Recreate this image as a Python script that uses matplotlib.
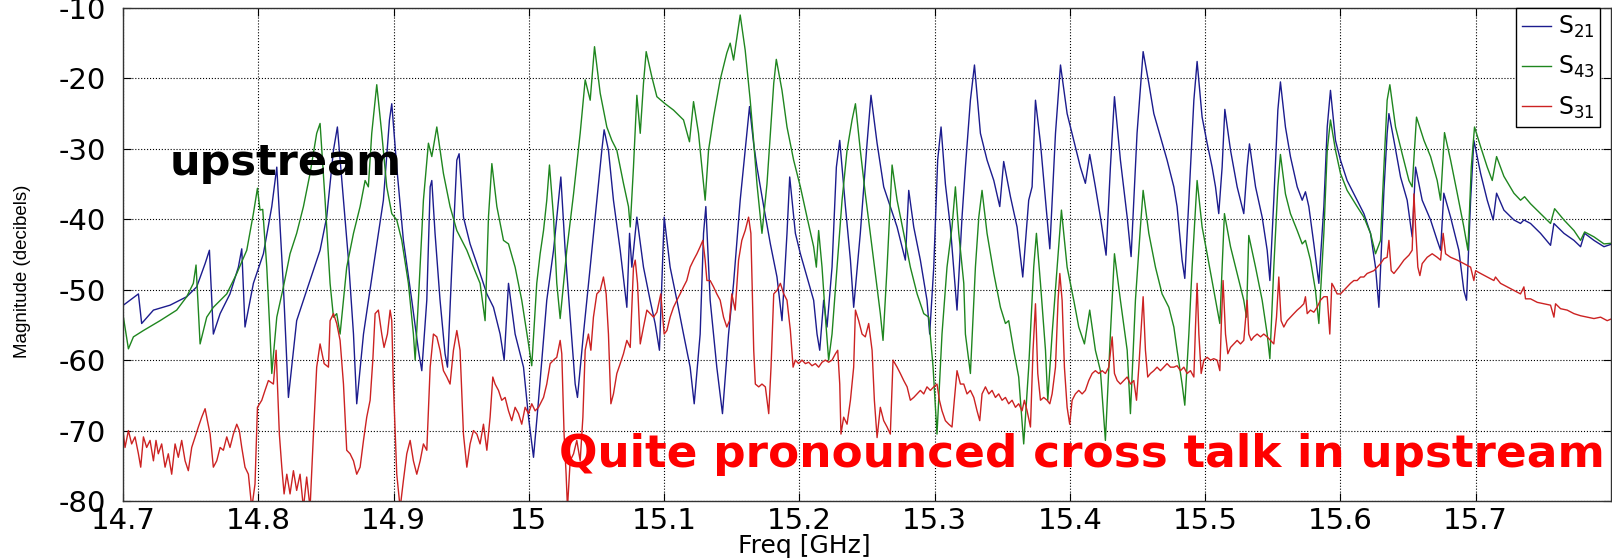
import matplotlib
matplotlib.use('Agg')
import matplotlib.pyplot as plt

plt.rcParams['axes.unicode_minus'] = False

# S21 (blue)
s21_freq = [14.7003, 14.7114, 14.7138, 14.7225, 14.7348, 14.7471, 14.7545, 14.7607, 14.7639, 14.7668,
            14.7718, 14.7791, 14.7853, 14.7878, 14.7902, 14.7964, 14.8038, 14.8100, 14.8137, 14.8186,
            14.8223, 14.8284, 14.8358, 14.8457, 14.8506, 14.8556, 14.8585, 14.8630, 14.8667, 14.8704,
            14.8728, 14.8778, 14.8851, 14.8925, 14.8970, 14.8987, 14.9024, 14.9073, 14.9135, 14.9184,
            14.9209, 14.9246, 14.9271, 14.9283, 14.9307, 14.9344, 14.9381, 14.9399, 14.9431, 14.9468,
            14.9485, 14.9517, 14.9566, 14.9616, 14.9690, 14.9739, 14.9788, 14.9818, 14.9850, 14.9899,
            14.9961, 14.9998, 15.0035, 15.0072, 15.0109, 15.0133, 15.0183, 15.0220, 15.0237, 15.0269,
            15.0306, 15.0343, 15.0360, 15.0404, 15.0454, 15.0503, 15.0540, 15.0557, 15.0589, 15.0626,
            15.0676, 15.0725, 15.0745, 15.0762, 15.0799, 15.0848, 15.0897, 15.0934, 15.0966, 15.1001,
            15.1045, 15.1095, 15.1144, 15.1193, 15.1223, 15.1267, 15.1292, 15.1309, 15.1341, 15.1390,
            15.1432, 15.1477, 15.1514, 15.1563, 15.1612, 15.1632, 15.1662, 15.1687, 15.1737, 15.1786,
            15.1835, 15.1872, 15.1909, 15.1929, 15.1971, 15.2008, 15.2057, 15.2106, 15.2131, 15.2151,
            15.2180, 15.2205, 15.2242, 15.2274, 15.2299, 15.2341, 15.2378, 15.2402, 15.2451, 15.2501,
            15.2530, 15.2575, 15.2624, 15.2673, 15.2723, 15.2772, 15.2784, 15.2809, 15.2846, 15.2895,
            15.2944, 15.2964, 15.2994, 15.3023, 15.3048, 15.3080, 15.3117, 15.3166, 15.3203, 15.3228,
            15.3265, 15.3295, 15.3339, 15.3388, 15.3438, 15.3482, 15.3511, 15.3561, 15.3610, 15.3652,
            15.3696, 15.3721, 15.3746, 15.3783, 15.3820, 15.3852, 15.3894, 15.3931, 15.3980, 15.4029,
            15.4078, 15.4115, 15.4147, 15.4189, 15.4226, 15.4268, 15.4300, 15.4330, 15.4374, 15.4424,
            15.4453, 15.4497, 15.4542, 15.4584, 15.4621, 15.4670, 15.4719, 15.4769, 15.4793, 15.4830,
            15.4850, 15.4880, 15.4917, 15.4941, 15.4978, 15.5015, 15.5052, 15.5077, 15.5101, 15.5126,
            15.5146, 15.5188, 15.5237, 15.5286, 15.5311, 15.5328, 15.5373, 15.5422, 15.5459, 15.5479,
            15.5508, 15.5538, 15.5557, 15.5594, 15.5631, 15.5681, 15.5718, 15.5742, 15.5767, 15.5804,
            15.5841, 15.5878, 15.5903, 15.5927, 15.5964, 15.6001, 15.6050, 15.6124, 15.6174, 15.6223,
            15.6260, 15.6285, 15.6322, 15.6346, 15.6359, 15.6396, 15.6445, 15.6494, 15.6531, 15.6556,
            15.6605, 15.6667, 15.6716, 15.6741, 15.6765, 15.6815, 15.6876, 15.6913, 15.6933, 15.6963,
            15.6987, 15.7037, 15.7086, 15.7130, 15.7155, 15.7209, 15.7283, 15.7332, 15.7357, 15.7406,
            15.7480, 15.7554, 15.7579, 15.7653, 15.7727, 15.7776, 15.7806, 15.7875, 15.7949, 15.8010]
s21_db = [-52.2, -50.6, -54.8, -52.9, -52.2, -51.0, -49.6, -46.3, -44.4, -56.3,
          -53.4, -50.6, -46.8, -44.2, -55.3, -49.1, -44.9, -38.2, -32.6, -49.6,
          -65.3, -54.4, -50.1, -44.4, -39.7, -30.2, -26.9, -37.3, -45.8, -56.3,
          -66.2, -56.3, -46.8, -37.3, -25.9, -23.6, -32.6, -43.0, -51.5, -58.6,
          -61.5, -51.5, -35.4, -34.5, -42.0, -51.5, -59.1, -61.0, -46.8, -31.6,
          -30.7, -39.7, -43.5, -46.3, -50.6, -52.5, -56.3, -60.0, -49.1, -56.3,
          -61.0, -68.1, -73.8, -65.7, -57.2, -51.5, -44.4, -37.3, -34.0, -44.4,
          -53.9, -63.4, -65.3, -56.3, -46.8, -37.3, -30.2, -27.3, -30.2, -37.3,
          -44.4, -52.5, -42.0, -46.8, -39.7, -46.8, -51.5, -54.8, -58.6, -39.7,
          -46.8, -51.5, -56.3, -61.0, -66.2, -56.3, -42.0, -38.2, -51.5, -61.0,
          -67.6, -56.3, -49.1, -37.3, -27.8, -24.0, -29.2, -32.6, -38.2, -43.5,
          -48.2, -54.4, -42.0, -34.0, -42.0, -44.9, -48.2, -51.5, -56.3, -58.6,
          -51.5, -55.3, -46.8, -32.6, -28.8, -38.2, -45.8, -52.5, -42.0, -29.2,
          -22.4, -29.2, -35.4, -38.2, -41.1, -44.9, -45.8, -35.9, -41.1, -45.8,
          -51.5, -56.3, -46.8, -31.6, -26.9, -35.0, -41.1, -52.9, -39.7, -32.6,
          -23.1, -18.1, -27.8, -31.6, -34.5, -38.2, -31.8, -36.8, -41.1, -48.2,
          -37.3, -35.4, -23.1, -29.2, -37.3, -44.2, -27.8, -18.1, -25.0, -28.8,
          -32.6, -34.9, -30.8, -35.4, -39.7, -45.1, -32.6, -22.6, -31.6, -39.7,
          -45.3, -27.8, -16.2, -20.7, -25.0, -28.3, -31.6, -35.4, -38.2, -45.8,
          -48.4, -37.3, -23.1, -17.6, -25.5, -29.2, -32.6, -35.4, -39.2, -32.6,
          -24.4, -30.2, -35.4, -39.2, -32.6, -29.3, -35.4, -39.7, -44.4, -48.7,
          -37.3, -24.5, -20.5, -26.9, -31.1, -35.4, -37.3, -36.1, -38.2, -43.5,
          -49.1, -38.2, -26.9, -21.7, -28.8, -31.6, -34.5, -37.3, -39.2, -42.0,
          -46.8, -52.5, -36.0, -27.8, -25.0, -28.8, -34.0, -37.3, -42.5, -32.6,
          -37.3, -40.1, -43.0, -44.4, -36.3, -39.7, -44.4, -50.1, -51.5, -37.3,
          -28.8, -33.5, -37.3, -40.1, -36.3, -38.7, -40.1, -40.6, -40.1, -40.6,
          -42.0, -43.7, -40.6, -42.0, -43.0, -43.9, -42.0, -43.0, -43.9, -43.5]

# S43 (green)
s43_freq = [14.7003, 14.7040, 14.7077, 14.7151, 14.7274, 14.7397, 14.7471, 14.7520, 14.7540, 14.7570,
            14.7619, 14.7668, 14.7767, 14.7841, 14.7915, 14.7964, 14.7994, 14.8013, 14.8033, 14.8063,
            14.8087, 14.8100, 14.8137, 14.8186, 14.8235, 14.8284, 14.8334, 14.8383, 14.8432, 14.8457,
            14.8494, 14.8531, 14.8556, 14.8580, 14.8605, 14.8654, 14.8704, 14.8753, 14.8790, 14.8814,
            14.8839, 14.8876, 14.8913, 14.8950, 14.8987, 14.9024, 14.9061, 14.9110, 14.9147, 14.9160,
            14.9184, 14.9221, 14.9258, 14.9283, 14.9320, 14.9369, 14.9418, 14.9468, 14.9542, 14.9591,
            14.9640, 14.9677, 14.9702, 14.9727, 14.9764, 14.9813, 14.9850, 14.9899, 14.9948, 14.9998,
            15.0022, 15.0059, 15.0084, 15.0109, 15.0133, 15.0153, 15.0183, 15.0207, 15.0232, 15.0281,
            15.0331, 15.0380, 15.0417, 15.0454, 15.0486, 15.0528, 15.0577, 15.0614, 15.0651, 15.0700,
            15.0737, 15.0750, 15.0774, 15.0799, 15.0824, 15.0848, 15.0868, 15.0910, 15.0947, 15.1008,
            15.1070, 15.1144, 15.1188, 15.1218, 15.1255, 15.1280, 15.1304, 15.1329, 15.1366, 15.1415,
            15.1464, 15.1489, 15.1514, 15.1563, 15.1600, 15.1637, 15.1662, 15.1687, 15.1724, 15.1761,
            15.1786, 15.1811, 15.1830, 15.1872, 15.1909, 15.1958, 15.2008, 15.2057, 15.2106, 15.2126,
            15.2143, 15.2168, 15.2193, 15.2217, 15.2242, 15.2279, 15.2316, 15.2353, 15.2390, 15.2415,
            15.2451, 15.2488, 15.2525, 15.2562, 15.2599, 15.2619, 15.2649, 15.2673, 15.2686, 15.2723,
            15.2772, 15.2821, 15.2871, 15.2920, 15.2957, 15.2989, 15.3018, 15.3055, 15.3092, 15.3129,
            15.3154, 15.3179, 15.3216, 15.3228, 15.3265, 15.3302, 15.3327, 15.3351, 15.3388, 15.3438,
            15.3487, 15.3524, 15.3548, 15.3585, 15.3622, 15.3659, 15.3696, 15.3733, 15.3753, 15.3783,
            15.3820, 15.3837, 15.3869, 15.3906, 15.3938, 15.3980, 15.4029, 15.4066, 15.4108, 15.4147,
            15.4189, 15.4226, 15.4263, 15.4300, 15.4330, 15.4374, 15.4424, 15.4448, 15.4485, 15.4522,
            15.4542, 15.4584, 15.4633, 15.4682, 15.4732, 15.4769, 15.4793, 15.4830, 15.4850, 15.4880,
            15.4904, 15.4941, 15.4978, 15.5015, 15.5064, 15.5109, 15.5126, 15.5143, 15.5188, 15.5237,
            15.5286, 15.5306, 15.5323, 15.5373, 15.5422, 15.5459, 15.5479, 15.5508, 15.5538, 15.5557,
            15.5594, 15.5631, 15.5681, 15.5718, 15.5742, 15.5779, 15.5816, 15.5841, 15.5878, 15.5903,
            15.5927, 15.5964, 15.6001, 15.6050, 15.6124, 15.6174, 15.6223, 15.6260, 15.6297, 15.6322,
            15.6346, 15.6366, 15.6408, 15.6457, 15.6507, 15.6531, 15.6563, 15.6618, 15.6667, 15.6716,
            15.6741, 15.6770, 15.6815, 15.6864, 15.6913, 15.6943, 15.6968, 15.6992, 15.7037, 15.7086,
            15.7123, 15.7155, 15.7209, 15.7283, 15.7332, 15.7362, 15.7406, 15.7480, 15.7554, 15.7584,
            15.7653, 15.7727, 15.7776, 15.7806, 15.7875, 15.7949, 15.8010]
s43_db = [-53.9, -58.4, -56.7, -55.8, -54.4, -52.9, -51.0, -49.1, -46.5, -57.7,
          -53.9, -52.5, -50.6, -47.7, -44.4, -39.2, -35.6, -38.7, -38.6, -46.8,
          -56.3, -61.9, -53.9, -49.6, -44.9, -42.0, -38.2, -33.5, -27.8, -26.4,
          -37.3, -49.1, -53.9, -53.4, -56.3, -46.8, -42.0, -38.2, -34.5, -35.4,
          -27.8, -20.9, -27.8, -35.4, -39.2, -40.1, -43.0, -49.1, -56.3, -60.0,
          -51.5, -37.3, -29.2, -31.1, -26.9, -33.5, -38.2, -41.6, -44.4, -46.8,
          -49.1, -54.4, -39.7, -32.1, -38.2, -43.0, -43.5, -46.8, -51.5, -57.7,
          -60.8, -49.1, -44.9, -41.6, -37.3, -32.3, -39.7, -49.1, -54.1, -44.4,
          -36.4, -27.8, -20.2, -23.1, -15.5, -22.1, -26.9, -28.8, -30.2, -34.9,
          -38.2, -41.1, -32.6, -22.4, -27.8, -20.7, -16.2, -19.8, -22.6, -23.6,
          -24.5, -25.9, -29.0, -23.3, -27.8, -32.6, -37.3, -30.2, -25.5, -20.2,
          -16.4, -15.0, -17.4, -11.0, -16.0, -23.1, -28.8, -35.0, -42.0, -35.0,
          -27.8, -20.7, -17.3, -21.7, -26.9, -31.6, -35.4, -39.7, -43.9, -46.8,
          -41.6, -46.8, -53.9, -60.0, -56.3, -46.8, -37.3, -30.2, -25.9, -23.6,
          -30.2, -36.4, -42.0, -47.7, -53.4, -57.2, -46.8, -37.3, -32.3, -37.3,
          -42.0, -46.8, -50.6, -53.4, -53.9, -61.0, -70.5, -56.3, -46.8, -41.1,
          -35.4, -42.0, -49.1, -56.3, -61.9, -46.8, -39.7, -35.9, -42.0, -47.7,
          -52.5, -54.8, -54.4, -58.6, -62.4, -71.9, -61.0, -46.8, -42.0, -49.1,
          -58.6, -65.7, -56.3, -46.8, -38.7, -46.8, -51.5, -55.3, -57.7, -52.9,
          -58.6, -61.5, -71.4, -56.3, -44.9, -51.5, -58.6, -67.6, -51.5, -41.1,
          -35.9, -42.0, -46.8, -50.6, -52.5, -55.3, -58.6, -63.4, -66.4, -56.3,
          -46.8, -34.5, -41.1, -44.9, -50.1, -54.8, -46.8, -39.2, -43.9, -47.7,
          -51.5, -53.9, -42.3, -46.8, -51.5, -56.3, -59.8, -46.8, -35.4, -30.8,
          -36.4, -39.2, -41.6, -43.5, -43.0, -45.8, -50.1, -54.8, -42.0, -30.2,
          -25.9, -30.2, -33.5, -35.9, -38.2, -39.7, -42.0, -44.9, -43.0, -32.6,
          -23.1, -20.9, -26.9, -30.7, -34.5, -35.4, -25.5, -28.8, -31.1, -34.5,
          -37.3, -27.7, -31.6, -36.3, -41.1, -44.4, -32.6, -26.9, -29.7, -32.6,
          -34.5, -31.1, -33.9, -36.3, -37.3, -36.8, -37.8, -39.2, -40.6, -38.5,
          -40.1, -41.6, -43.0, -41.8, -42.5, -43.5, -43.4]

# S31 (red)
s31_freq = [14.7003, 14.7015, 14.7040, 14.7064, 14.7089, 14.7114, 14.7131, 14.7151, 14.7175, 14.7200,
            14.7225, 14.7244, 14.7261, 14.7286, 14.7311, 14.7335, 14.7360, 14.7385, 14.7409, 14.7434,
            14.7459, 14.7483, 14.7508, 14.7533, 14.7557, 14.7582, 14.7607, 14.7624, 14.7644, 14.7668,
            14.7693, 14.7718, 14.7742, 14.7767, 14.7791, 14.7816, 14.7841, 14.7860, 14.7878, 14.7902,
            14.7927, 14.7952, 14.7976, 14.7994, 14.8026, 14.8050, 14.8075, 14.8112, 14.8132, 14.8156,
            14.8174, 14.8191, 14.8211, 14.8235, 14.8260, 14.8284, 14.8309, 14.8334, 14.8358, 14.8383,
            14.8408, 14.8432, 14.8457, 14.8487, 14.8519, 14.8531, 14.8556, 14.8580, 14.8605, 14.8630,
            14.8654, 14.8679, 14.8704, 14.8728, 14.8753, 14.8778, 14.8802, 14.8827, 14.8847, 14.8864,
            14.8888, 14.8913, 14.8930, 14.8955, 14.8975, 14.8987, 14.8999, 14.9024, 14.9049, 14.9073,
            14.9098, 14.9123, 14.9147, 14.9172, 14.9197, 14.9221, 14.9246, 14.9271, 14.9295, 14.9320,
            14.9344, 14.9369, 14.9394, 14.9418, 14.9443, 14.9468, 14.9492, 14.9517, 14.9542, 14.9566,
            14.9591, 14.9616, 14.9640, 14.9665, 14.9690, 14.9714, 14.9734, 14.9751, 14.9776, 14.9800,
            14.9825, 14.9850, 14.9874, 14.9899, 14.9924, 14.9948, 14.9973, 14.9998, 15.0022, 15.0047,
            15.0072, 15.0109, 15.0133, 15.0158, 15.0183, 15.0207, 15.0232, 15.0244, 15.0261, 15.0276,
            15.0286, 15.0306, 15.0331, 15.0355, 15.0380, 15.0400, 15.0417, 15.0441, 15.0459, 15.0478,
            15.0503, 15.0528, 15.0552, 15.0572, 15.0589, 15.0607, 15.0626, 15.0651, 15.0676, 15.0700,
            15.0725, 15.0750, 15.0774, 15.0787, 15.0804, 15.0824, 15.0848, 15.0873, 15.0897, 15.0922,
            15.0947, 15.0976, 15.1001, 15.1021, 15.1045, 15.1070, 15.1095, 15.1119, 15.1144, 15.1168,
            15.1193, 15.1218, 15.1243, 15.1267, 15.1287, 15.1304, 15.1317, 15.1341, 15.1366, 15.1390,
            15.1415, 15.1440, 15.1464, 15.1484, 15.1501, 15.1526, 15.1551, 15.1575, 15.1600, 15.1625,
            15.1642, 15.1663, 15.1675, 15.1700, 15.1724, 15.1749, 15.1774, 15.1791, 15.1811, 15.1835,
            15.1860, 15.1885, 15.1909, 15.1934, 15.1954, 15.1971, 15.1995, 15.2020, 15.2045, 15.2069,
            15.2094, 15.2119, 15.2143, 15.2168, 15.2193, 15.2217, 15.2242, 15.2267, 15.2284, 15.2299,
            15.2308, 15.2328, 15.2353, 15.2378, 15.2402, 15.2415, 15.2439, 15.2464, 15.2488, 15.2513,
            15.2538, 15.2555, 15.2575, 15.2599, 15.2624, 15.2649, 15.2673, 15.2693, 15.2723, 15.2747,
            15.2772, 15.2797, 15.2821, 15.2846, 15.2871, 15.2895, 15.2920, 15.2944, 15.2969, 15.2994,
            15.3018, 15.3036, 15.3055, 15.3080, 15.3105, 15.3129, 15.3146, 15.3166, 15.3191, 15.3216,
            15.3240, 15.3265, 15.3290, 15.3314, 15.3334, 15.3351, 15.3376, 15.3401, 15.3425, 15.3450,
            15.3474, 15.3499, 15.3524, 15.3548, 15.3573, 15.3598, 15.3622, 15.3647, 15.3664, 15.3684,
            15.3709, 15.3728, 15.3746, 15.3763, 15.3783, 15.3807, 15.3832, 15.3852, 15.3869, 15.3894,
            15.3913, 15.3926, 15.3943, 15.3960, 15.3980, 15.3999, 15.4017, 15.4041, 15.4066, 15.4091,
            15.4115, 15.4140, 15.4165, 15.4189, 15.4214, 15.4239, 15.4263, 15.4288, 15.4313, 15.4330,
            15.4350, 15.4374, 15.4399, 15.4424, 15.4448, 15.4473, 15.4493, 15.4510, 15.4527, 15.4542,
            15.4559, 15.4576, 15.4596, 15.4621, 15.4645, 15.4670, 15.4695, 15.4719, 15.4744, 15.4769,
            15.4793, 15.4818, 15.4843, 15.4867, 15.4892, 15.4917, 15.4929, 15.4941, 15.4954, 15.4971,
            15.4991, 15.5015, 15.5040, 15.5064, 15.5089, 15.5109, 15.5121, 15.5133, 15.5151, 15.5168,
            15.5188, 15.5212, 15.5237, 15.5262, 15.5286, 15.5311, 15.5323, 15.5341, 15.5360, 15.5385,
            15.5410, 15.5434, 15.5459, 15.5484, 15.5508, 15.5528, 15.5545, 15.5562, 15.5582, 15.5607,
            15.5631, 15.5656, 15.5681, 15.5705, 15.5730, 15.5742, 15.5755, 15.5779, 15.5804, 15.5828,
            15.5853, 15.5878, 15.5903, 15.5922, 15.5937, 15.5952, 15.5976, 15.6001, 15.6026, 15.6050,
            15.6075, 15.6100, 15.6124, 15.6149, 15.6174, 15.6198, 15.6223, 15.6248, 15.6272, 15.6297,
            15.6322, 15.6346, 15.6359, 15.6376, 15.6396, 15.6433, 15.6470, 15.6507, 15.6531, 15.6544,
            15.6556, 15.6573, 15.6588, 15.6605, 15.6642, 15.6679, 15.6716, 15.6741, 15.6760, 15.6778,
            15.6815, 15.6864, 15.6913, 15.6963, 15.6987, 15.7000, 15.7037, 15.7086, 15.7135, 15.7147,
            15.7184, 15.7234, 15.7283, 15.7332, 15.7357, 15.7369, 15.7406, 15.7456, 15.7505, 15.7554,
            15.7579, 15.7591, 15.7628, 15.7677, 15.7727, 15.7776, 15.7825, 15.7875, 15.7924, 15.7973,
            15.8010]
s31_db = [-70.5, -72.4, -70.0, -71.9, -70.9, -73.3, -75.2, -70.9, -72.4, -71.4,
          -74.3, -71.4, -73.3, -71.9, -75.2, -73.3, -76.2, -71.9, -73.8, -71.4,
          -74.3, -75.7, -72.4, -70.9, -69.5, -68.1, -66.9, -68.6, -70.5, -75.2,
          -74.3, -72.4, -72.8, -70.9, -72.4, -70.5, -69.1, -70.0, -72.4, -75.2,
          -76.2, -81.0, -77.6, -66.7, -65.7, -64.3, -62.9, -63.4, -58.6, -70.5,
          -75.2, -79.0, -76.2, -79.0, -75.7, -78.5, -76.2, -81.0, -76.6, -81.0,
          -70.5, -61.0, -57.7, -60.5, -61.0, -54.4, -53.4, -54.8, -57.2, -63.4,
          -72.8, -73.3, -74.3, -76.2, -75.2, -71.4, -68.1, -65.7, -60.0, -53.4,
          -52.9, -56.3, -58.2, -56.3, -52.9, -54.4, -63.4, -76.2, -81.0, -77.1,
          -73.3, -71.4, -74.3, -76.2, -74.3, -71.9, -72.8, -61.0, -56.3, -56.7,
          -58.6, -61.5, -62.4, -63.4, -58.6, -55.8, -58.6, -70.5, -75.2, -71.9,
          -70.0, -70.5, -71.9, -69.1, -72.8, -68.1, -62.4, -63.4, -64.3, -65.7,
          -65.3, -67.2, -68.6, -66.7, -67.6, -69.1, -66.7, -67.6, -66.2, -67.2,
          -66.7, -65.3, -63.4, -60.5, -60.0, -59.6, -57.2, -59.1, -70.5, -76.2,
          -81.0, -74.3, -73.3, -71.4, -74.3, -68.1, -58.6, -56.3, -58.6, -53.9,
          -50.6, -50.1, -48.2, -50.6, -56.3, -66.2, -64.8, -61.9, -60.5, -59.1,
          -57.2, -58.2, -46.8, -45.8, -49.1, -57.7, -55.3, -52.9, -53.4, -53.9,
          -53.2, -50.6, -56.3, -55.8, -53.9, -52.5, -51.5, -50.6, -49.6, -48.7,
          -46.8, -45.8, -44.9, -43.9, -43.0, -45.8, -48.7, -48.7, -49.6, -50.6,
          -51.5, -53.9, -55.3, -54.4, -50.6, -52.9, -45.8, -43.0, -41.6, -39.7,
          -42.0, -58.6, -63.4, -63.8, -63.4, -63.8, -67.6, -61.0, -50.6, -50.1,
          -49.1, -50.6, -51.5, -55.8, -61.0, -60.0, -60.5, -60.0, -60.5, -60.3,
          -60.8, -60.5, -61.0, -60.3, -60.0, -60.3, -60.0, -59.1, -58.6, -63.4,
          -70.5, -68.1, -69.1, -65.7, -61.0, -52.9, -54.4, -56.3, -56.7, -54.8,
          -58.6, -65.7, -71.0, -66.7, -68.6, -69.5, -70.5, -60.0, -61.0, -61.9,
          -62.9, -63.8, -65.7, -65.3, -64.8, -64.3, -64.8, -63.8, -64.3, -63.8,
          -63.4, -65.7, -67.2, -68.6, -69.1, -69.5, -65.7, -61.5, -63.4, -63.4,
          -64.8, -64.3, -65.3, -67.2, -68.6, -64.8, -63.8, -64.8, -64.3, -65.3,
          -64.8, -65.7, -65.3, -66.2, -65.7, -66.7, -66.2, -67.2, -65.7, -67.2,
          -69.5, -58.6, -52.0, -61.9, -65.7, -65.3, -65.7, -66.2, -64.8, -61.0,
          -51.5, -47.7, -51.5, -61.0, -66.7, -69.1, -65.7, -64.8, -64.3, -64.8,
          -64.3, -62.9, -61.9, -61.5, -61.9, -61.5, -61.9, -61.0, -56.7, -61.9,
          -62.9, -63.4, -62.9, -62.4, -63.4, -62.9, -65.7, -61.0, -55.8, -51.0,
          -58.6, -62.4, -61.9, -61.5, -61.0, -61.5, -61.0, -60.5, -61.0, -61.0,
          -60.8, -61.5, -61.0, -61.9, -61.5, -62.4, -55.3, -49.1, -56.3, -61.9,
          -60.0, -59.6, -60.0, -59.8, -60.0, -61.5, -54.4, -48.7, -56.3, -59.1,
          -58.2, -57.7, -57.2, -57.7, -57.2, -51.5, -56.3, -57.2, -56.7, -56.3,
          -56.7, -56.3, -56.7, -57.2, -57.7, -53.9, -48.2, -54.4, -55.3, -54.4,
          -53.9, -53.4, -52.9, -52.5, -52.0, -51.0, -53.4, -52.9, -53.2, -52.5,
          -51.5, -51.0, -51.0, -56.3, -49.1, -49.6, -50.6, -50.6, -50.1, -49.6,
          -49.1, -48.7, -48.7, -48.2, -48.2, -47.7, -47.5, -47.3, -46.8, -46.3,
          -45.6, -45.4, -43.0, -47.3, -47.7, -46.8, -45.8, -45.1, -44.4, -36.4,
          -41.1, -46.8, -48.0, -46.3, -45.4, -44.9, -45.4, -45.8, -42.0, -44.9,
          -45.4, -45.8, -46.3, -46.8, -48.7, -47.3, -47.7, -48.2, -48.7, -48.2,
          -49.1, -49.6, -50.1, -50.6, -49.6, -51.3, -51.3, -51.8, -52.0, -52.2,
          -53.9, -52.0, -52.7, -52.9, -53.4, -53.7, -53.9, -54.1, -53.9, -54.4,
          -54.1]

x_ticks = [14.7, 14.8, 14.9, 15.0, 15.1, 15.2, 15.3, 15.4, 15.5, 15.6, 15.7]
x_labels = ['14.7', '14.8', '14.9', '15', '15.1', '15.2', '15.3', '15.4', '15.5', '15.6', '15.7']
y_ticks = [-80, -70, -60, -50, -40, -30, -20, -10]

fig = plt.figure(figsize=(16.12, 5.6), dpi=100)
ax = fig.add_axes([0.0763, 0.1054, 0.9230, 0.8804])

ax.plot(s21_freq, s21_db, color='#1c1c8e', lw=1.0, label=r'$\mathrm{S}_{21}$')
ax.plot(s43_freq, s43_db, color='#1f861f', lw=1.0, label=r'$\mathrm{S}_{43}$')
ax.plot(s31_freq, s31_db, color='#cc2222', lw=1.0, label=r'$\mathrm{S}_{31}$')

ax.set_xlim(14.7, 15.8)
ax.set_ylim(-80, -10)
ax.set_xticks(x_ticks)
ax.set_xticklabels(x_labels)
ax.set_yticks(y_ticks)
ax.tick_params(direction='in', top=True, right=True, length=6, labelsize=21)
ax.tick_params(axis='y', pad=12)
ax.tick_params(axis='x', pad=4)
ax.grid(True, color='black', linestyle=':', linewidth=0.8)
for sp in ax.spines.values():
    sp.set_linewidth(1.0)
    sp.set_color('#333333')

ax.set_xlabel('Freq [GHz]', fontsize=18)
ax.xaxis.set_label_coords(0.458, -0.066)
ax.set_ylabel('Magnitude (decibels)', fontsize=13.5, family='Liberation Sans')
ax.yaxis.set_label_coords(-0.062, 0.465)

leg = ax.legend(loc='upper right', bbox_to_anchor=(0.993, 1.0), fontsize=17,
                handlelength=1.2, borderaxespad=0.0, fancybox=False, framealpha=1,
                edgecolor='black', labelspacing=0.6, handletextpad=0.3, borderpad=0.25)
leg.get_frame().set_linewidth(1.0)

ax.text(14.82, -32.0, 'upstream', fontsize=31, fontweight='bold', color='black',
        ha='center', va='center')
ax.text(15.409, -73.4, 'Quite pronounced cross talk in upstream', fontsize=32.7,
        fontweight='bold', color='#ff0000', ha='center', va='center')

fig.savefig('out.png', dpi=100)
